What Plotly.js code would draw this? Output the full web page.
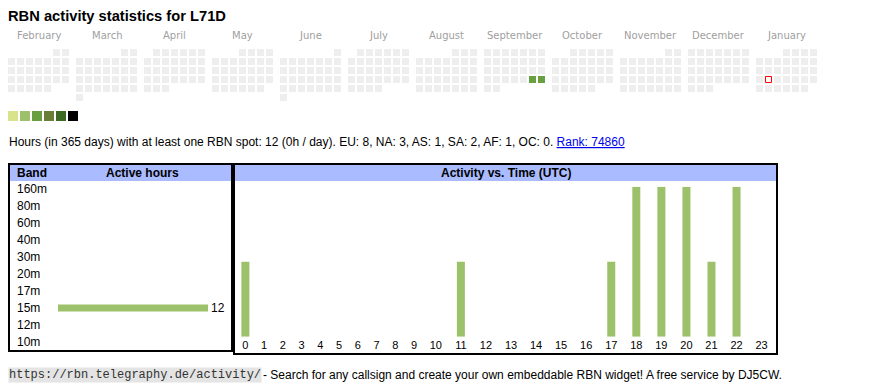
<!DOCTYPE html>
<html><head><meta charset="utf-8">
<script src="https://cdn.plot.ly/plotly-3.0.1.min.js"></script>
<style>html,body{margin:0;padding:0;background:#fff}#chart{width:870px;height:390px}</style>
</head><body><div id="chart"></div>
<script>
// ---------- data ----------
const titleText = 'RBN activity statistics for L71D';
const months = ['February','March','April','May','June','July','August','September','October','November','December','January'];
const monthYears = [2025,2025,2025,2025,2025,2025,2025,2025,2025,2025,2025,2026];
const monthNums = [2,3,4,5,6,7,8,9,10,11,12,1];
const activeDays = ['2025-09-27','2025-09-28'];
const activeLevels = [2,2];
const todayDate = '2026-01-20';
const levelColors = ['#d8e38b','#9dc16a','#68a040','#6a7e3a','#3a6a24','#000000'];
const bands = ['160m','80m','60m','40m','30m','20m','17m','15m','12m','10m'];
const bandHours = [0,0,0,0,0,0,0,12,0,0];
const hourLabels = ['0','1','2','3','4','5','6','7','8','9','10','11','12','13','14','15','16','17','18','19','20','21','22','23'];
const hourActivity = [1,0,0,0,0,0,0,0,0,0,0,1,0,0,0,0,0,1,2,2,2,1,2,0];
const statsText = 'Hours (in 365 days) with at least one RBN spot: 12 (0h / day). EU: 8, NA: 3, AS: 1, SA: 2, AF: 1, OC: 0. ';
const rankText = 'Rank: 74860';
const footerUrl = 'https://rbn.telegraphy.de/activity/';
const footerText = '- Search for any callsign and create your own embeddable RBN widget! A free service by DJ5CW.';

// ---------- styles ----------
const W = 870, H = 390;
const SANS = 'Liberation Sans, Arial, sans-serif';
const cellGray = '#eeeeee', barGreen = '#9dc16a', headBlue = '#aabbff';
const calX0 = 8, monthPitch = 68, cellPitch = 9, calY0 = 49, cellSize = 7;
const py = v => 1 - v / H; // pixel y -> paper

// ---------- calendar cells ----------
const gray = {x:[],y:[]}, act = {x:[],y:[],c:[]}, today = {x:[],y:[]};
const pad2 = n => (n < 10 ? '0' : '') + n;
months.forEach((m, i) => {
  const yr = monthYears[i], mo = monthNums[i];
  const nDays = new Date(Date.UTC(yr, mo, 0)).getUTCDate();
  const first = (new Date(Date.UTC(yr, mo - 1, 1)).getUTCDay() + 6) % 7;
  for (let d = 1; d <= nDays; d++) {
    const idx = first + d - 1, row = Math.floor(idx / 7), col = idx % 7;
    const cx = calX0 + monthPitch * i + cellPitch * col + cellSize / 2;
    const cy = calY0 + cellPitch * row + cellSize / 2;
    const key = yr + '-' + pad2(mo) + '-' + pad2(d);
    const a = activeDays.indexOf(key);
    if (key === todayDate) { today.x.push(cx); today.y.push(cy); }
    else if (a >= 0) { act.x.push(cx); act.y.push(cy); act.c.push(levelColors[activeLevels[a]]); }
    else { gray.x.push(cx); gray.y.push(cy); }
  }
});

// ---------- hour column centres (auto table layout by label width) ----------
const hourCenters = [];
let cur = 236;
hourLabels.forEach(l => { const w = 12.4 + 6.33 * l.length; hourCenters.push(cur + w / 2); cur += w; });

const traces = [
  {type:'scatter', mode:'markers', x:gray.x, y:gray.y, xaxis:'x', yaxis:'y', cliponaxis:false,
   marker:{symbol:'square', size:cellSize, color:cellGray, line:{width:0}}, hoverinfo:'skip'},
  {type:'scatter', mode:'markers', x:act.x, y:act.y, xaxis:'x', yaxis:'y', cliponaxis:false,
   marker:{symbol:'square', size:cellSize, color:act.c, line:{width:0}}, hoverinfo:'skip'},
  {type:'scatter', mode:'markers', x:today.x, y:today.y, xaxis:'x', yaxis:'y', cliponaxis:false,
   marker:{symbol:'square', size:cellSize - 1, color:'#ffffff', line:{width:1, color:'#ff0000'}}, hoverinfo:'skip'},
  {type:'scatter', mode:'markers', x:levelColors.map((c, i) => 8 + 12 * i + 5), y:levelColors.map(() => 116),
   xaxis:'x', yaxis:'y', cliponaxis:false,
   marker:{symbol:'square', size:10, color:levelColors, line:{width:0}}, hoverinfo:'skip'},
  {type:'bar', orientation:'h', x:bandHours, y:bands, xaxis:'x2', yaxis:'y2', width:7/17,
   marker:{color:barGreen, line:{width:0}}, text:bandHours.map(v => v > 0 ? String(v) : ''),
   textposition:'outside', constraintext:'none', cliponaxis:false,
   textfont:{family:SANS, size:12, color:'#000'}, hoverinfo:'skip'},
  {type:'bar', x:hourCenters, y:hourActivity, xaxis:'x3', yaxis:'y3', width:8,
   marker:{color:barGreen, line:{width:0}}, hoverinfo:'skip'}
];

// ---------- annotations ----------
const ann = [];
const txt = (x, y, text, o) => ann.push(Object.assign({xref:'x', yref:'y', x:x, y:y, text:text, showarrow:false,
  xanchor:'left', yanchor:'middle', borderpad:0, font:{family:SANS, size:12, color:'#000'}}, o || {}));
txt(7, 16, '<b>' + titleText + '</b>', {font:{family:SANS, size:14.7, color:'#000'}});
months.forEach((m, i) => txt(calX0 + monthPitch * i + 30.5, 35, m,
  {xanchor:'center', font:{family:'DejaVu Sans, sans-serif', size:10, color:'#a0a0a0'}}));
txt(8, 142, statsText + '<span style="color:#0000ee;text-decoration:underline">' + rankText + '</span>');
txt(16, 173, '<b>Band</b>');
txt(142, 173, '<b>Active hours</b>', {xanchor:'center'});
txt(506, 173, '<b>Activity vs. Time (UTC)</b>', {xanchor:'center'});
bands.forEach(b => ann.push({xref:'x', yref:'y2', x:16, y:b, text:b, showarrow:false, xanchor:'left', yanchor:'middle',
  borderpad:0, font:{family:SANS, size:12, color:'#000'}}));
txt(8, 375, footerUrl, {bgcolor:'#e4e4e4', font:{family:'Liberation Mono, Courier New, monospace', size:12, color:'#333'}});
txt(262, 375, footerText);

const shapes = [
  {type:'rect', xref:'x', yref:'y', x0:10, x1:231, y0:165, y1:181, fillcolor:headBlue, line:{width:0}, layer:'below'},
  {type:'rect', xref:'x', yref:'y', x0:235, x1:776, y0:165, y1:181, fillcolor:headBlue, line:{width:0}, layer:'below'},
  {type:'rect', xref:'x', yref:'y', x0:9, x1:232, y0:164, y1:351, line:{width:2, color:'#000'}, layer:'above'},
  {type:'rect', xref:'x', yref:'y', x0:234, x1:777, y0:164, y1:354, line:{width:2, color:'#000'}, layer:'above'}
];

const hidden = {visible:false, fixedrange:true, showgrid:false, zeroline:false};
const layout = {
  width:W, height:H, margin:{l:0, r:0, t:0, b:0}, paper_bgcolor:'#fff', plot_bgcolor:'rgba(0,0,0,0)',
  showlegend:false, font:{family:SANS, size:11, color:'#000'},
  xaxis:Object.assign({}, hidden, {domain:[0,1], range:[0,W], anchor:'y'}),
  yaxis:Object.assign({}, hidden, {domain:[0,1], range:[H,0], anchor:'x'}),
  xaxis2:Object.assign({}, hidden, {domain:[58/W, 208/W], range:[0,12], anchor:'y2'}),
  yaxis2:Object.assign({}, hidden, {domain:[py(350.5), py(180.5)], type:'category', categoryarray:bands,
    categoryorder:'array', range:[9.5,-0.5], anchor:'x2'}),
  xaxis3:{domain:[0,1], range:[0,W], anchor:'y3', fixedrange:true, showgrid:false, zeroline:false, showline:false,
    ticks:'', tickmode:'array', tickvals:hourCenters, ticktext:hourLabels, tickfont:{family:SANS, size:11, color:'#000'}},
  yaxis3:Object.assign({}, hidden, {domain:[py(336.7), py(186.7)], range:[0,2], anchor:'x3'}),
  annotations:ann, shapes:shapes
};
Plotly.newPlot('chart', traces, layout, {staticPlot:true, displayModeBar:false});
</script></body></html>
